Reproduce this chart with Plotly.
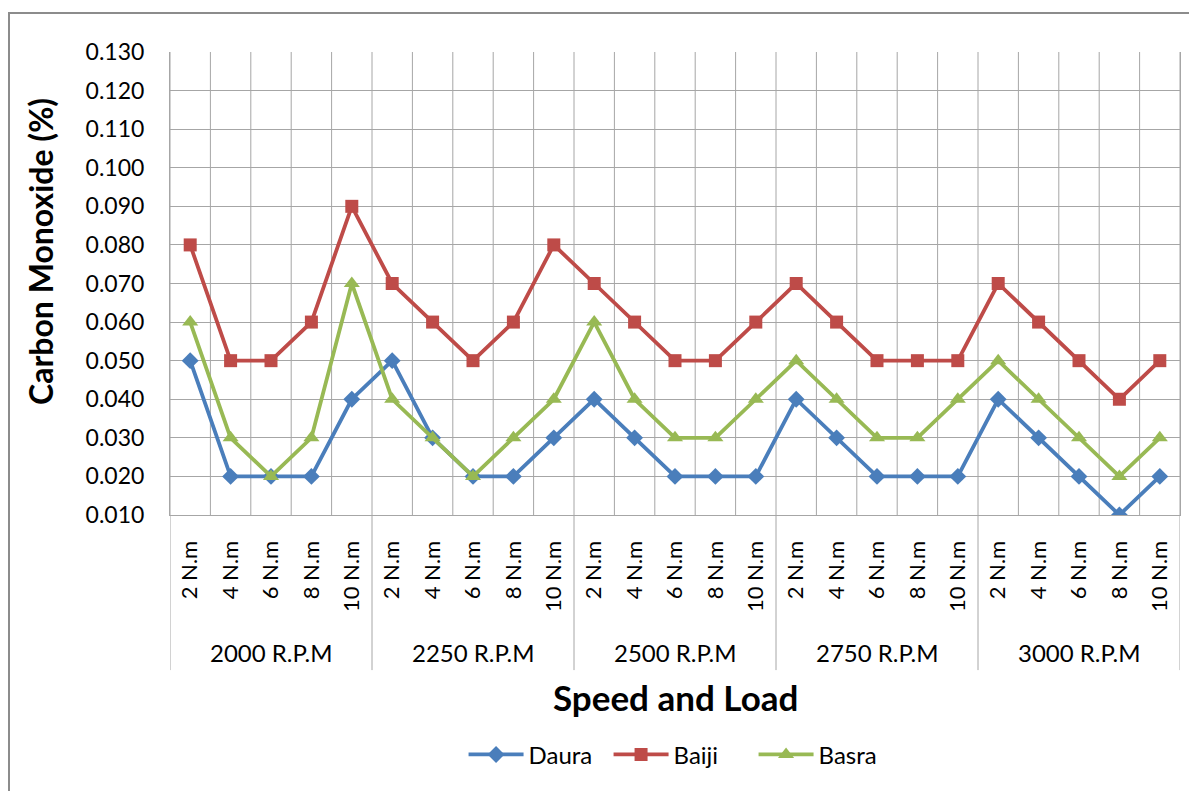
import plotly.graph_objects as go

speeds = ["2000 R.P.M", "2250 R.P.M", "2500 R.P.M", "2750 R.P.M", "3000 R.P.M"]
loads = ["2 N.m", "4 N.m", "6 N.m", "8 N.m", "10 N.m"]

daura = [0.05, 0.02, 0.02, 0.02, 0.04,
         0.05, 0.03, 0.02, 0.02, 0.03,
         0.04, 0.03, 0.02, 0.02, 0.02,
         0.04, 0.03, 0.02, 0.02, 0.02,
         0.04, 0.03, 0.02, 0.01, 0.02]
baiji = [0.08, 0.05, 0.05, 0.06, 0.09,
         0.07, 0.06, 0.05, 0.06, 0.08,
         0.07, 0.06, 0.05, 0.05, 0.06,
         0.07, 0.06, 0.05, 0.05, 0.05,
         0.07, 0.06, 0.05, 0.04, 0.05]
basra = [0.06, 0.03, 0.02, 0.03, 0.07,
         0.04, 0.03, 0.02, 0.03, 0.04,
         0.06, 0.04, 0.03, 0.03, 0.04,
         0.05, 0.04, 0.03, 0.03, 0.04,
         0.05, 0.04, 0.03, 0.02, 0.03]

y_ticks = [0.01 * i for i in range(1, 14)]

n_load = len(loads)
n = len(speeds) * n_load
xs = list(range(n))
tick_text = [loads[i % n_load] for i in xs]

FONT = "Lato"

fig = go.Figure()
series = [
    ("Daura", daura, "#4A7EBB", "diamond", 13),
    ("Baiji", baiji, "#BE4B48", "square", 13),
    ("Basra", basra, "#98B954", "triangle-up", 14),
]
for name, vals, col, sym, sz in series:
    fig.add_trace(go.Scatter(
        x=xs, y=vals, name=name, mode="lines+markers",
        line=dict(color=col, width=3.8),
        marker=dict(symbol=sym, size=sz, color=col),
    ))

shapes = []
# vertical gridlines at category boundaries
for k in range(n + 1):
    shapes.append(dict(type="line", xref="x", yref="y", x0=k - 0.5, x1=k - 0.5,
                       y0=y_ticks[0], y1=y_ticks[-1], layer="below",
                       line=dict(color="#A6A6A6", width=1)))
# group dividers in the category band
for g in range(len(speeds) + 1):
    shapes.append(dict(type="line", xref="x", yref="paper", x0=g * n_load - 0.5, x1=g * n_load - 0.5,
                       y0=-0.335, y1=0, line=dict(color="#A6A6A6", width=1)))
# outer chart border
shapes.append(dict(type="rect", xref="paper", yref="paper", x0=-0.1594, x1=1.03, y0=-0.62, y1=1.0842,
                   line=dict(color="#8C8C8C", width=2)))

annotations = []
for g, s in enumerate(speeds):
    annotations.append(dict(x=g * n_load + (n_load - 1) / 2, y=-0.296, xref="x", yref="paper",
                            text=s, showarrow=False, yanchor="middle",
                            font=dict(family=FONT, size=24, color="#000000")))
annotations.append(dict(x=-0.1287, y=0.568, xref="paper", yref="paper", text="<b>Carbon Monoxide (%)</b>",
                        textangle=-90, showarrow=False, xanchor="center", yanchor="middle",
                        font=dict(family=FONT, size=32, color="#000000")))
annotations.append(dict(x=0.5, y=-0.393, xref="paper", yref="paper", text="<b>Speed and Load</b>",
                        showarrow=False, xanchor="center", yanchor="middle",
                        font=dict(family=FONT, size=35, color="#000000")))

fig.update_layout(
    width=1189, height=783,
    margin=dict(l=162, r=17, t=44, b=276),
    paper_bgcolor="white", plot_bgcolor="white",
    font=dict(family=FONT, size=23, color="#000000"),
    showlegend=True,
    legend=dict(orientation="h", x=0.506, y=-0.518, xanchor="center", yanchor="middle",
                font=dict(family=FONT, size=24), itemwidth=55, entrywidth=75,
                entrywidthmode="pixels", bgcolor="rgba(0,0,0,0)"),
    shapes=shapes,
    annotations=annotations,
    xaxis=dict(range=[-0.5, n - 0.5], tickvals=xs, ticktext=tick_text, tickangle=-90,
               showgrid=False, zeroline=False, showline=True, linecolor="#A6A6A6", linewidth=1,
               ticks="", ticklabelstandoff=16, tickfont=dict(family=FONT, size=22)),
    yaxis=dict(range=[y_ticks[0], y_ticks[-1]], tickvals=y_ticks,
               ticktext=[f"{v:.3f}" for v in y_ticks],
               showgrid=True, gridcolor="#A6A6A6", gridwidth=1, zeroline=False,
               showline=True, linecolor="#A6A6A6", linewidth=1, mirror=True,
               ticks="", ticklabelstandoff=20, tickfont=dict(family=FONT, size=23)),
)
fig.write_html("out.html")
